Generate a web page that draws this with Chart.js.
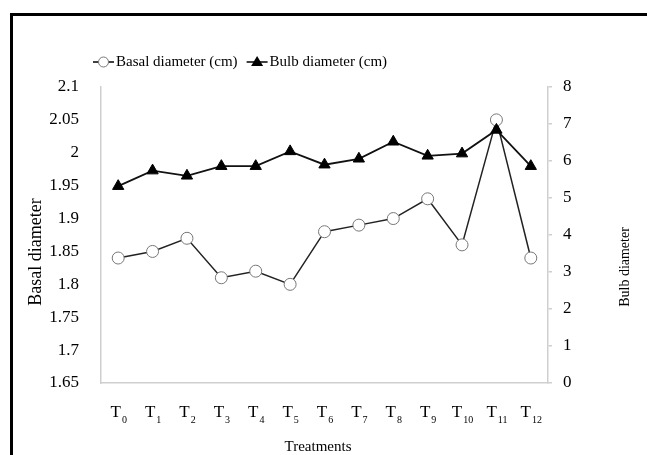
<!DOCTYPE html>
<html>
<head>
<meta charset="utf-8">
<script src="https://cdn.jsdelivr.net/npm/chart.js@4.4.0/dist/chart.umd.min.js"></script>
<style>
    body { margin: 0; background: #fff; overflow: hidden; }
    #frame { position: absolute; left: 10px; top: 13px; width: 700px; height: 500px; border: 3px solid #000; }
    #wrap { position: absolute; left: 0; top: 0; width: 647px; height: 455px; }
</style>
</head>
<body>
<div id="frame"></div>
<div id="wrap"><canvas id="chart" width="647" height="455"></canvas></div>
<script>
// data
const treatments = ['T0', 'T1', 'T2', 'T3', 'T4', 'T5', 'T6', 'T7', 'T8', 'T9', 'T10', 'T11', 'T12'];
const basalDiameter = [1.84, 1.85, 1.87, 1.81, 1.82, 1.80, 1.88, 1.89, 1.90, 1.93, 1.86, 2.05, 1.84];
const bulbDiameter = [5.32, 5.74, 5.6, 5.86, 5.86, 6.26, 5.9, 6.06, 6.52, 6.14, 6.2, 6.84, 5.86];
const basalTicks = [1.65, 1.7, 1.75, 1.8, 1.85, 1.9, 1.95, 2, 2.05, 2.1];
const bulbTicks = [0, 1, 2, 3, 4, 5, 6, 7, 8];

const serif = '"Liberation Serif", "Times New Roman", serif';
const axisGray = '#cfcfcf';

// legend drawn by hand: line + marker + text
const lineLegend = {
    id: 'lineLegend',
    afterDraw: function(chart) {
        const ctx = chart.ctx;
        ctx.save();
        ctx.font = '15px ' + serif;
        ctx.textBaseline = 'middle';
        let x = 93;
        const y = 62;
        chart.data.datasets.forEach(function(ds) {
            ctx.strokeStyle = '#000';
            ctx.lineWidth = 1.5;
            ctx.beginPath();
            ctx.moveTo(x, y);
            ctx.lineTo(x + 21, y);
            ctx.stroke();
            const mx = x + 10.5;
            if (ds.pointStyle === 'circle') {
                ctx.beginPath();
                ctx.arc(mx, y, 5, 0, Math.PI * 2);
                ctx.fillStyle = '#fff';
                ctx.fill();
                ctx.strokeStyle = '#777';
                ctx.lineWidth = 1;
                ctx.stroke();
            } else {
                ctx.beginPath();
                ctx.moveTo(mx, y - 6);
                ctx.lineTo(mx + 6, y + 4);
                ctx.lineTo(mx - 6, y + 4);
                ctx.closePath();
                ctx.fillStyle = '#000';
                ctx.fill();
            }
            ctx.fillStyle = '#000';
            ctx.fillText(ds.label, x + 23, y);
            x += 23 + ctx.measureText(ds.label).width + 9;
        });
        ctx.restore();
    }
};

// T with subscript under each category, plus axis titles
const axisText = {
    id: 'axisText',
    afterDraw: function(chart) {
        const ctx = chart.ctx;
        const xs = chart.scales.x;
        ctx.save();
        ctx.fillStyle = '#000';
        ctx.textBaseline = 'alphabetic';
        treatments.forEach(function(t, i) {
            const px = xs.getPixelForValue(i);
            const base = t.charAt(0), sub = t.slice(1);
            ctx.font = '17px ' + serif;
            const wb = ctx.measureText(base).width;
            ctx.font = '10px ' + serif;
            const ws = ctx.measureText(sub).width;
            const left = px - (wb + ws) / 2;
            ctx.font = '17px ' + serif;
            ctx.fillText(base, left, 417);
            ctx.font = '10px ' + serif;
            ctx.fillText(sub, left + wb + 1, 423);
        });

        ctx.textAlign = 'center';
        ctx.textBaseline = 'middle';
        ctx.font = '15px ' + serif;
        ctx.fillText('Treatments', 318, 447);

        ctx.font = '18px ' + serif;
        ctx.translate(36, 252);
        ctx.rotate(-Math.PI / 2);
        ctx.fillText('Basal diameter', 0, 0);
        ctx.restore();

        ctx.save();
        ctx.fillStyle = '#000';
        ctx.textAlign = 'center';
        ctx.textBaseline = 'middle';
        ctx.font = '14px ' + serif;
        ctx.translate(625, 267);
        ctx.rotate(-Math.PI / 2);
        ctx.fillText('Bulb diameter', 0, 0);
        ctx.restore();
    }
};

const ctx = document.getElementById('chart').getContext('2d');
const chart = new Chart(ctx, {
    type: 'line',
    data: {
        labels: treatments,
        datasets: [{
            label: 'Basal diameter (cm)',
            data: basalDiameter,
            yAxisID: 'y',
            order: 1,
            borderColor: '#222',
            borderWidth: 1.5,
            pointStyle: 'circle',
            pointRadius: 6,
            pointBackgroundColor: '#fff',
            pointBorderColor: '#777',
            pointBorderWidth: 1,
            tension: 0
        }, {
            label: 'Bulb diameter (cm)',
            data: bulbDiameter,
            yAxisID: 'y1',
            order: 0,
            borderColor: '#111',
            borderWidth: 1.8,
            pointStyle: 'triangle',
            pointRadius: 6.5,
            pointBackgroundColor: '#000',
            pointBorderColor: '#000',
            pointBorderWidth: 1,
            tension: 0
        }]
    },
    options: {
        responsive: false,
        animation: false,
        layout: { padding: { top: 87, left: 0, right: 0, bottom: 0 } },
        plugins: {
            legend: { display: false },
            tooltip: { enabled: false }
        },
        scales: {
            x: {
                offset: true,
                grid: { display: false },
                border: { color: axisGray, width: 1.5 },
                ticks: { display: false },
                afterFit: function(s) { s.height = 72; }
            },
            y: {
                position: 'left',
                min: basalTicks[0],
                max: basalTicks[basalTicks.length - 1],
                grid: { display: false },
                border: { color: axisGray, width: 1.5 },
                afterBuildTicks: function(s) {
                    s.ticks = basalTicks.map(function(v) { return { value: v }; });
                },
                ticks: {
                    padding: 14,
                    color: '#000',
                    font: { family: serif, size: 17 },
                    callback: function(v) { return String(+Number(v).toFixed(2)); }
                },
                afterFit: function(s) { s.width = 101; }
            },
            y1: {
                position: 'right',
                min: bulbTicks[0],
                max: bulbTicks[bulbTicks.length - 1],
                grid: { display: true, drawOnChartArea: false, drawTicks: true, tickLength: 4, color: axisGray, lineWidth: 1.5 },
                border: { color: axisGray, width: 1.5 },
                afterBuildTicks: function(s) {
                    s.ticks = bulbTicks.map(function(v) { return { value: v }; });
                },
                ticks: {
                    padding: 11,
                    color: '#000',
                    font: { family: serif, size: 17 }
                },
                afterFit: function(s) { s.width = 99; }
            }
        }
    },
    plugins: [lineLegend, axisText]
});
</script>
</body>
</html>
